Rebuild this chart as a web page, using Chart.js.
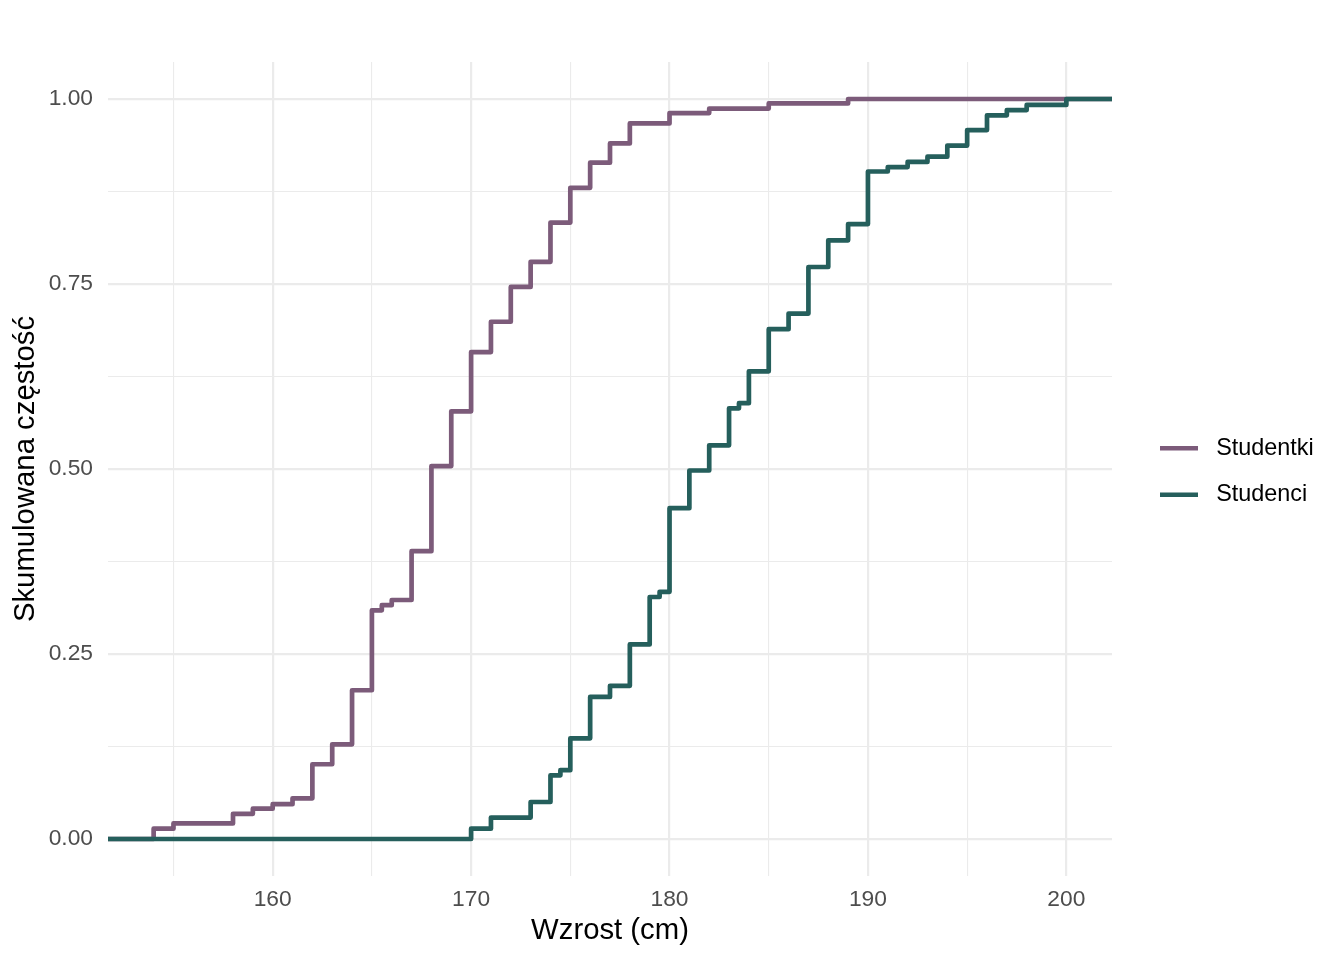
<!DOCTYPE html>
<html>
<head>
<meta charset="utf-8">
<script src="https://cdn.jsdelivr.net/npm/chart.js@4.4.1/dist/chart.umd.min.js"></script>
<style>
  html, body { margin: 0; padding: 0; background: #ffffff; }
</style>
</head>
<body>
<canvas id="myChart" width="1344" height="960"></canvas>
<script>
// heights (cm) where the empirical CDF jumps, and the cumulative value after the jump
const studentkiHeights = [154, 155, 158, 159, 160, 161, 162, 163, 164, 165, 165.5, 166, 167, 168, 169,
  170, 171, 172, 173, 174, 175, 176, 177, 178, 180, 182, 185, 189];
const studentkiCum = [0.014, 0.021, 0.034, 0.041, 0.047, 0.055, 0.101, 0.128, 0.201, 0.309, 0.316, 0.323, 0.389, 0.504, 0.578,
  0.658, 0.699, 0.746, 0.780, 0.833, 0.880, 0.914, 0.940, 0.967, 0.981, 0.987, 0.994, 1.0];

const studenciHeights = [170, 171, 173, 174, 174.5, 175, 176, 177, 178, 179, 179.5, 180, 181, 182, 183, 183.5,
  184, 185, 186, 187, 188, 189, 190, 191, 192, 193, 194, 195, 196, 197, 198, 200];
const studenciCum = [0.014, 0.029, 0.050, 0.086, 0.093, 0.136, 0.192, 0.207, 0.263, 0.327, 0.334, 0.447, 0.498, 0.532, 0.582, 0.589,
  0.632, 0.689, 0.710, 0.773, 0.809, 0.831, 0.902, 0.908, 0.915, 0.922, 0.937, 0.958, 0.978, 0.985, 0.992, 1.0];

const seriesNames = ["Studentki", "Studenci"];
const xTicks = [155, 160, 165, 170, 175, 180, 185, 190, 195, 200];
const xLabelled = [160, 170, 180, 190, 200];
const yTicks = [0, 0.125, 0.25, 0.375, 0.5, 0.625, 0.75, 0.875, 1];
const yLabelled = [0, 0.25, 0.5, 0.75, 1];
const xMin = 151.7, xMax = 202.3;
const yMin = -0.05, yMax = 1.05;

function ecdfPoints(xs, ys) {
  const pts = [{ x: xMin, y: 0 }];
  for (let i = 0; i < xs.length; i++) pts.push({ x: xs[i], y: ys[i] });
  pts.push({ x: xMax, y: 1 });
  return pts;
}

Chart.defaults.font.family = "'Liberation Sans', Arial, sans-serif";

const gridColor = "#ebebeb";
const tickFont = { size: 22.8 };
const titleFont = { size: 29.3 };

// keep the legend 232px wide and push its items right of the panel
const legendBox = {
  id: "legendBox",
  beforeLayout(chart) {
    const lg = chart.legend;
    if (lg && !lg._fixed) {
      const fit = lg.fit;
      lg.fit = function () { fit.call(this); this.width = 232; };
      lg._fixed = true;
    }
  },
  afterLayout(chart) {
    const lg = chart.legend;
    lg.left = chart.chartArea.right + 25;
    lg.right = 1344;
    lg.top += 2.5;
    lg.bottom += 2.5;
  },
};

var ctx = document.getElementById("myChart");
var myChart = new Chart(ctx, {
  type: "line",
  data: {
    datasets: [
      {
        label: seriesNames[0],
        data: ecdfPoints(studentkiHeights, studentkiCum),
        borderColor: "#7c5b7a",
        backgroundColor: "#7c5b7a",
        borderWidth: 4.7,
        borderJoinStyle: "round",
        stepped: "before",
        pointRadius: 0,
        fill: false,
        clip: 0,
        order: 1,
      },
      {
        label: seriesNames[1],
        data: ecdfPoints(studenciHeights, studenciCum),
        borderColor: "#255f5c",
        backgroundColor: "#255f5c",
        borderWidth: 4.7,
        borderJoinStyle: "round",
        stepped: "before",
        pointRadius: 0,
        fill: false,
        clip: 0,
        order: 0,
      },
    ],
  },
  options: {
    responsive: false,
    animation: false,
    devicePixelRatio: 1,
    layout: { padding: { top: 62, left: 0, right: 0, bottom: 0 } },
    plugins: {
      tooltip: { enabled: false },
      legend: {
        position: "right",
        fullSize: false,
        align: "center",
        labels: {
          boxWidth: 38,
          boxHeight: 4.5,
          padding: 23,
          color: "#000000",
          font: { size: 23.4 },
          sort: (a, b) => a.datasetIndex - b.datasetIndex,
          generateLabels(chart) {
            const items = Chart.defaults.plugins.legend.labels.generateLabels(chart);
            items.forEach((it) => {
              it.fillStyle = it.strokeStyle;
              it.lineWidth = 0;
              it.text = " " + it.text;
            });
            return items;
          },
        },
      },
    },
    scales: {
      x: {
        type: "linear",
        min: xMin,
        max: xMax,
        afterBuildTicks(scale) { scale.ticks = xTicks.map((v) => ({ value: v })); },
        afterFit(scale) { scale.height = 84; },
        grid: {
          color: gridColor,
          drawTicks: false,
          lineWidth: (c) => (c.tick && xLabelled.includes(c.tick.value) ? 2.2 : 1.1),
        },
        border: { display: false },
        ticks: {
          autoSkip: false,
          maxRotation: 0,
          padding: 10,
          color: "#4d4d4d",
          font: tickFont,
          callback: (v) => (xLabelled.includes(v) ? String(v) : ""),
        },
        title: {
          display: true,
          text: "Wzrost (cm)",
          color: "#000000",
          font: titleFont,
          padding: { top: 0, bottom: 11.5 },
        },
      },
      y: {
        type: "linear",
        min: yMin,
        max: yMax,
        afterBuildTicks(scale) { scale.ticks = yTicks.map((v) => ({ value: v })); },
        afterFit(scale) { scale.width = 108; },
        grid: {
          color: gridColor,
          drawTicks: false,
          lineWidth: (c) => (c.tick && yLabelled.includes(c.tick.value) ? 2.2 : 1.1),
        },
        border: { display: false },
        ticks: {
          autoSkip: false,
          padding: 15,
          color: "#4d4d4d",
          font: tickFont,
          callback: (v) => (yLabelled.includes(v) ? v.toFixed(2) : ""),
        },
        title: {
          display: true,
          text: "Skumulowana częstość",
          color: "#000000",
          font: titleFont,
          padding: { top: 8, bottom: 0 },
        },
      },
    },
  },
  plugins: [legendBox],
});
</script>
</body>
</html>
